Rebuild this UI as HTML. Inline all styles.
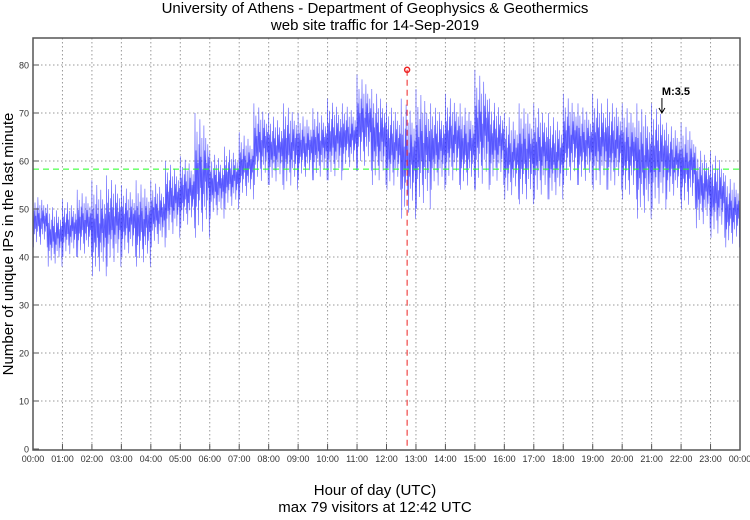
<!DOCTYPE html>
<html><head><meta charset="utf-8"><style>
body{margin:0;background:#fff;width:750px;height:515px;overflow:hidden}
svg{font-family:"Liberation Sans",sans-serif}
</style></head><body>
<svg id="c" width="750" height="515">
<text x="375" y="13" font-size="15" text-anchor="middle">University of Athens - Department of Geophysics &amp; Geothermics</text>
<text x="375" y="30" font-size="15" text-anchor="middle">web site traffic for 14-Sep-2019</text>
<g id="grid"></g>
<g id="series"></g>
<g id="overlay"></g>
<rect x="33" y="38" width="707" height="412" fill="none" stroke="#555" stroke-width="1.5"/>
<g id="axes"></g>
<text x="375" y="495" font-size="15" text-anchor="middle">Hour of day (UTC)</text>
<text x="375" y="512" font-size="15" text-anchor="middle">max 79 visitors at 12:42 UTC</text>
<text transform="translate(13,244) rotate(-90)" font-size="15" text-anchor="middle">Number of unique IPs in the last minute</text>
</svg>
<script>
const binLo=[42,38,40,40,36,38,40,38,42,44,46,44,48,50,52,55,55,54,56,56,56,58,58,55,54,48,50,54,55,54,54,55,52,51,52,52,55,55,54,54,52,48,50,52,50,46,44,42];
const binHi=[53,51,52,54,56,57,55,56,56,60,61,70,62,63,66,72,70,72,70,71,73,72,78,75,72,73,75,72,74,72,79,73,70,72,72,70,74,72,74,73,72,72,72,68,68,63,62,57];
const yTicks=[0,10,20,30,40,50,60,70,80];
const xTickLabels=["00:00","01:00","02:00","03:00","04:00","05:00","06:00","07:00","08:00","09:00","10:00","11:00","12:00","13:00","14:00","15:00","16:00","17:00","18:00","19:00","20:00","21:00","22:00","23:00","00:00"];
const meanValue=58.3;
const maxValue=79, maxMinute=762;
const markerLabel="M:3.5", markerMinute=1281, markerValue=70;
const pattern=[1,-1,0.4,-0.5,0.7,-0.3,0.2,-0.8,0.5,-0.4,0.9,-0.2,0.3,-0.6,0.6,-0.9,0.1,-0.3,0.8,-0.5,0.4,-0.1,0.6,-0.7,0.2,-0.4,0.5,-0.2,0.3,-1];
const NS="http://www.w3.org/2000/svg";
const X=m=>33+m/1440*707, Y=v=>449-v*4.8;
function mk(t,a,p){const e=document.createElementNS(NS,t);for(const k in a)e.setAttribute(k,a[k]);p.appendChild(e);return e;}
const grid=document.getElementById('grid'),axes=document.getElementById('axes');
yTicks.forEach(v=>{if(v>0){const l=mk('line',{x1:33,x2:740,y1:Y(v),y2:Y(v),stroke:'#999','stroke-dasharray':'1.5,2.5'},grid);
}
const t=mk('text',{x:29,y:Y(v)+3.5,'font-size':9,'text-anchor':'end',fill:'#333'},axes);t.textContent=v;

mk('line',{x1:33,x2:39,y1:Y(v),y2:Y(v),stroke:'#555'},axes);});
xTickLabels.forEach((s,i)=>{const x=X(i*60);
if(i>0&&i<24){const l=mk('line',{x1:x,x2:x,y1:38,y2:450,stroke:'#999','stroke-dasharray':'1.5,2.5'},grid);
}
mk('line',{x1:x,x2:x,y1:444,y2:450,stroke:'#555'},axes);
const t=mk('text',{x:x,y:462,'font-size':9,'text-anchor':'middle',fill:'#333'},axes);t.textContent=s;
});
let pts=[];
binLo.forEach((lo,b)=>{const hi=binHi[b],m=(lo+hi)/2,h=(hi-lo)/2;
pattern.forEach((p,k)=>{pts.push(X(b*30+k).toFixed(1)+','+Y(m+p*h).toFixed(1));});});
const ser=document.getElementById('series');
const pl=mk('polyline',{points:pts.join(' '),fill:'none',stroke:'#2020ff','stroke-width':0.6,'stroke-opacity':0.75},ser);

const ov=document.getElementById('overlay');
const g=mk('line',{x1:33,x2:740,y1:Y(meanValue),y2:Y(meanValue),stroke:'#22ff22','stroke-dasharray':'6,4'},ov);

const r=mk('line',{x1:X(maxMinute),x2:X(maxMinute),y1:Y(maxValue),y2:450,stroke:'#ee2222','stroke-dasharray':'6,4'},ov);

const c=mk('circle',{cx:X(maxMinute),cy:Y(maxValue),r:2.5,fill:'none',stroke:'#ee2222','stroke-width':1.5},ov);

const mx=X(markerMinute),my=Y(markerValue);
const a=mk('path',{d:`M${mx},${my-15}V${my} M${mx-3},${my-5}L${mx},${my}L${mx+3},${my-5}`,stroke:'#000',fill:'none'},ov);

const mt=mk('text',{x:mx,y:my-18,'font-size':11,'font-weight':'bold'},ov);mt.textContent=markerLabel;

</script>
</body></html>
